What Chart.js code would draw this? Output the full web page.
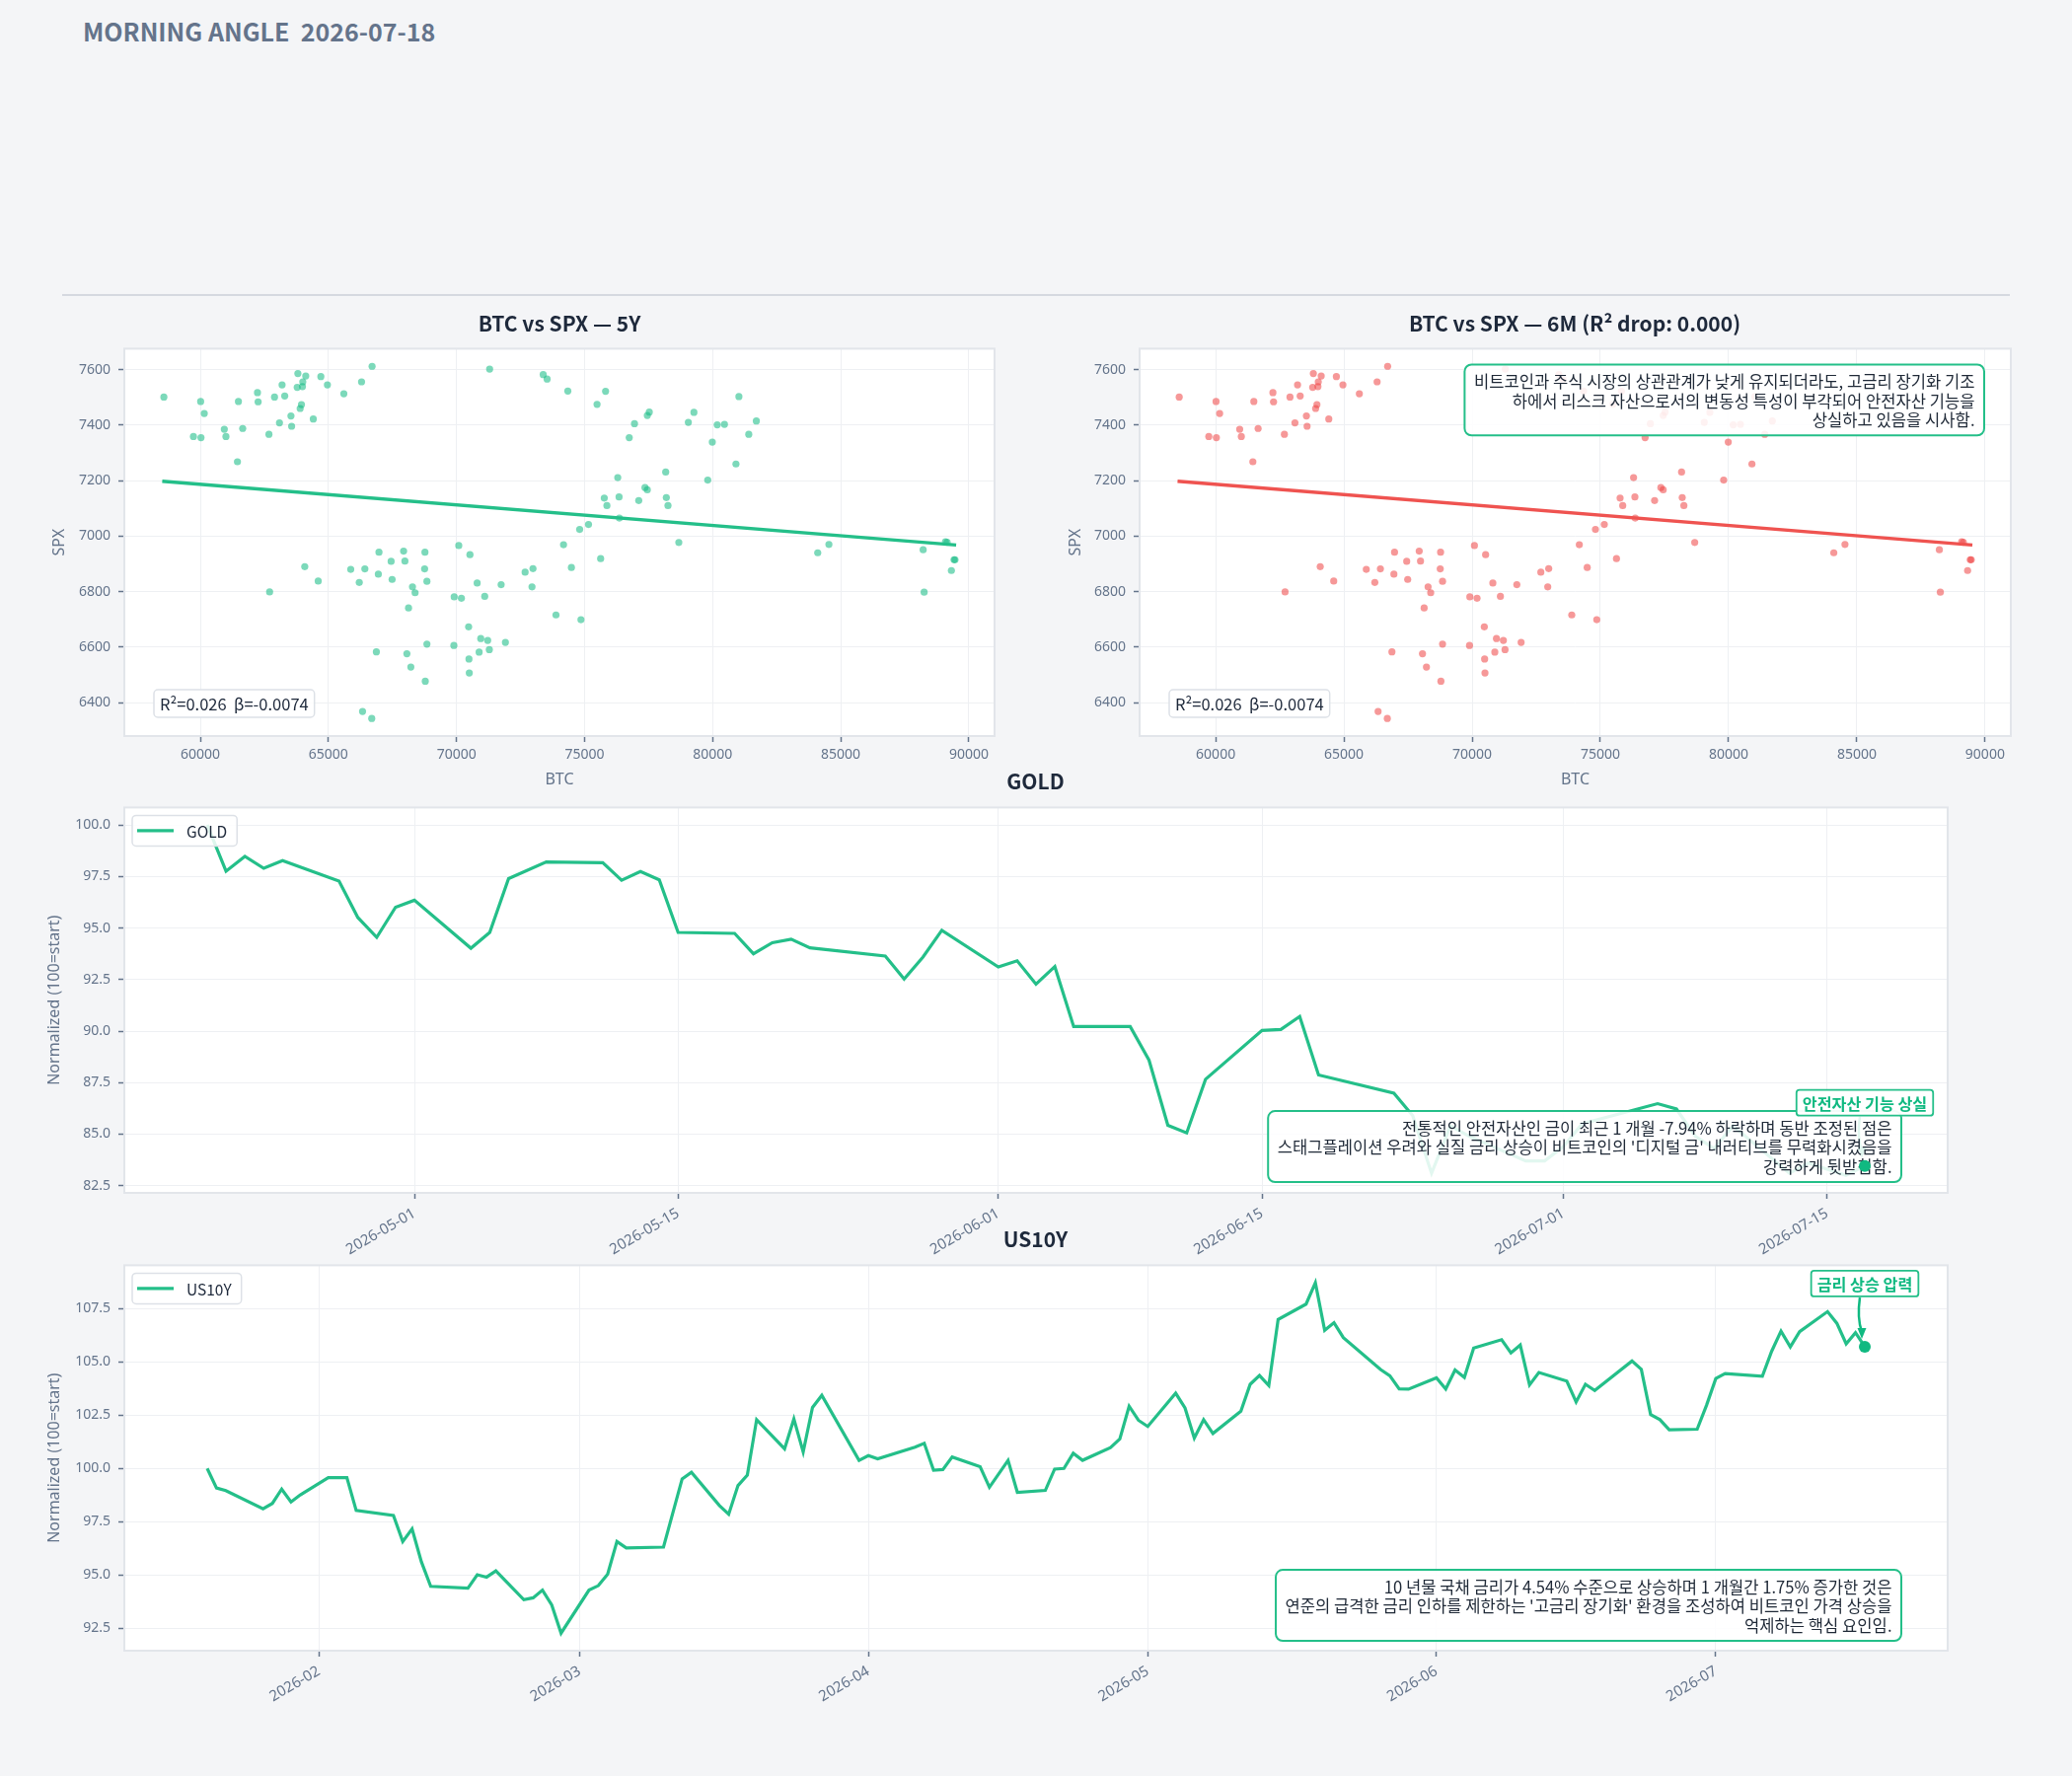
<!DOCTYPE html>
<html>
<head>
<meta charset="utf-8">
<script src="https://cdn.jsdelivr.net/npm/chart.js@4.4.1/dist/chart.umd.min.js"></script>
<style>
  html, body { margin: 0; padding: 0; }
  body { width: 2100px; height: 1800px; background: #f4f5f7; position: relative; overflow: hidden; }
  canvas { position: absolute; }
  .title { position: absolute; width: 800px; text-align: center; white-space: pre;
           font-family: 'Noto Sans CJK KR', sans-serif; font-weight: 700; color: #1e293b;
           line-height: 30px; font-size: 21px; }
  #header { position: absolute; left: 84px; top: 14px; white-space: pre; line-height: 34px;
            font-family: 'Noto Sans CJK KR', sans-serif; font-weight: 700; font-size: 25px; color: #64748b; }
  #rule { position: absolute; left: 63px; top: 298px; width: 1974px; height: 2px; background: #d5d9e0; }
</style>
</head>
<body>
<div id="header">MORNING ANGLE  2026-07-18</div>
<div id="rule"></div>

<canvas id="scatter5y" width="972" height="469" style="left:40px; top:337px"></canvas>
<canvas id="scatter6m" width="972" height="469" style="left:1070px; top:337px"></canvas>
<canvas id="goldChart" width="1940" height="477" style="left:40px; top:802px"></canvas>
<canvas id="us10yChart" width="1940" height="477" style="left:40px; top:1266px"></canvas>

<div class="title" style="left:167px; top:312px;">BTC vs SPX — 5Y</div>
<div class="title" style="left:1196px; top:312px;">BTC vs SPX — 6M (R² drop: 0.000)</div>
<div class="title" style="left:649.5px; top:776px;">GOLD</div>
<div class="title" style="left:649.5px; top:1240px;">US10Y</div>

<script>
// ---------- data ----------
const btc = [58577, 60013, 60154, 59731, 60026, 60936, 61000, 61487, 61654, 61449,
  62231, 62256, 62679, 62897, 63090, 63192, 63295, 63538, 63564, 63808,
  63782, 64000, 64115, 63987, 63948, 63897, 64410, 64705, 64961, 65602,
  66294, 66705, 71294, 62705, 64077, 64602, 65872, 66205, 66423, 66949,
  66974, 67448, 67487, 67936, 67987, 68282, 68384, 68128, 68769, 68756,
  68846, 70089, 70525, 69910, 70192, 70807, 71102, 71743, 72679, 72986,
  72948, 73884, 66872, 68064, 68218, 68846, 68782, 69897, 70474, 70948,
  71218, 70884, 71282, 71910, 70487, 70500, 66333, 66692, 73385, 73538,
  74346, 75820, 75487, 81025, 76949, 76744, 77449, 77526, 79051, 79269,
  80179, 80461, 79987, 81410, 81705, 80910, 79808, 78167, 76295, 77359,
  77449, 75769, 76346, 75872, 77115, 78192, 78256, 76359, 75154, 74808,
  78679, 74179, 75628, 74487, 74859, 84102, 84538, 88218, 88256, 89089,
  89154, 89423, 89461, 89320];
const spx = [7501, 7485, 7442, 7359, 7355, 7385, 7359, 7485, 7388, 7268,
  7517, 7484, 7367, 7501, 7408, 7545, 7505, 7433, 7396, 7586,
  7536, 7556, 7577, 7539, 7474, 7460, 7422, 7575, 7545, 7513,
  7556, 7612, 7602, 6799, 6890, 6838, 6880, 6833, 6882, 6863,
  6942, 6909, 6844, 6946, 6910, 6817, 6796, 6741, 6942, 6882,
  6837, 6966, 6933, 6781, 6776, 6831, 6783, 6825, 6870, 6883,
  6817, 6716, 6583, 6576, 6528, 6611, 6477, 6606, 6673, 6631,
  6624, 6582, 6591, 6617, 6557, 6507, 6368, 6343, 7582, 7566,
  7523, 7522, 7475, 7503, 7405, 7355, 7435, 7447, 7410, 7446,
  7401, 7403, 7339, 7367, 7415, 7260, 7202, 7231, 7211, 7175,
  7167, 7137, 7141, 7110, 7128, 7139, 7110, 7065, 7042, 7024,
  6977, 6969, 6919, 6887, 6699, 6940, 6970, 6951, 6798, 6980,
  6978, 6915, 6915, 6876];
const fitBtc = [58513, 89505];
const fitSpx = [7198, 6968];
const btcTicks = [60000, 65000, 70000, 75000, 80000, 85000, 90000];
const spxTicks = [6400, 6600, 6800, 7000, 7200, 7400, 7600];

const goldDates = ['2026-04-20', '2026-04-21', '2026-04-22', '2026-04-23', '2026-04-24',
  '2026-04-27', '2026-04-28', '2026-04-29', '2026-04-30', '2026-05-01',
  '2026-05-04', '2026-05-05', '2026-05-06', '2026-05-08', '2026-05-11',
  '2026-05-12', '2026-05-13', '2026-05-14', '2026-05-15', '2026-05-18',
  '2026-05-19', '2026-05-20', '2026-05-21', '2026-05-22', '2026-05-26',
  '2026-05-27', '2026-05-28', '2026-05-29', '2026-06-01', '2026-06-02',
  '2026-06-03', '2026-06-04', '2026-06-05', '2026-06-08', '2026-06-09',
  '2026-06-10', '2026-06-11', '2026-06-12', '2026-06-15', '2026-06-16',
  '2026-06-17', '2026-06-18', '2026-06-22', '2026-06-23', '2026-06-24',
  '2026-06-25', '2026-06-26', '2026-06-29', '2026-06-30', '2026-07-01',
  '2026-07-02', '2026-07-06', '2026-07-07', '2026-07-08', '2026-07-09',
  '2026-07-10', '2026-07-13', '2026-07-14', '2026-07-15', '2026-07-16',
  '2026-07-17'];
const goldValues = [100.0, 97.76, 98.48, 97.90, 98.27,
  97.28, 95.51, 94.55, 96.01, 96.35,
  94.02, 94.79, 97.40, 98.21, 98.17,
  97.32, 97.74, 97.34, 94.79, 94.74,
  93.75, 94.29, 94.46, 94.04, 93.64,
  92.53, 93.59, 94.89, 93.11, 93.41,
  92.28, 93.13, 90.22, 90.22, 88.59,
  85.43, 85.06, 87.66, 90.03, 90.08,
  90.71, 87.87, 86.99, 85.9, 83.1,
  85.4, 84.9, 83.7, 83.7, 84.4,
  85.5, 86.48, 86.22, 84.9, 84.3,
  85.4, 83.1, 83.6, 83.3, 83.0,
  83.46];
const goldTicks = ['2026-05-01', '2026-05-15', '2026-06-01', '2026-06-15', '2026-07-01', '2026-07-15'];
const goldLevels = [82.5, 85.0, 87.5, 90.0, 92.5, 95.0, 97.5, 100.0];

const us10yDates = ['2026-01-20', '2026-01-21', '2026-01-22', '2026-01-26', '2026-01-27',
  '2026-01-28', '2026-01-29', '2026-01-30', '2026-02-02', '2026-02-04',
  '2026-02-05', '2026-02-09', '2026-02-10', '2026-02-11', '2026-02-12',
  '2026-02-13', '2026-02-17', '2026-02-18', '2026-02-19', '2026-02-20',
  '2026-02-23', '2026-02-24', '2026-02-25', '2026-02-26', '2026-02-27',
  '2026-03-02', '2026-03-03', '2026-03-04', '2026-03-05', '2026-03-06',
  '2026-03-10', '2026-03-12', '2026-03-13', '2026-03-16', '2026-03-17',
  '2026-03-18', '2026-03-19', '2026-03-20', '2026-03-23', '2026-03-24',
  '2026-03-25', '2026-03-26', '2026-03-27', '2026-03-31', '2026-04-01',
  '2026-04-02', '2026-04-06', '2026-04-07', '2026-04-08', '2026-04-09',
  '2026-04-10', '2026-04-13', '2026-04-14', '2026-04-16', '2026-04-17',
  '2026-04-20', '2026-04-21', '2026-04-22', '2026-04-23', '2026-04-24',
  '2026-04-27', '2026-04-28', '2026-04-29', '2026-04-30', '2026-05-01',
  '2026-05-04', '2026-05-05', '2026-05-06', '2026-05-07', '2026-05-08',
  '2026-05-11', '2026-05-12', '2026-05-13', '2026-05-14', '2026-05-15',
  '2026-05-18', '2026-05-19', '2026-05-20', '2026-05-21', '2026-05-22',
  '2026-05-26', '2026-05-27', '2026-05-28', '2026-05-29', '2026-06-01',
  '2026-06-02', '2026-06-03', '2026-06-04', '2026-06-05', '2026-06-08',
  '2026-06-09', '2026-06-10', '2026-06-11', '2026-06-12', '2026-06-15',
  '2026-06-16', '2026-06-17', '2026-06-18', '2026-06-22', '2026-06-23',
  '2026-06-24', '2026-06-25', '2026-06-26', '2026-06-29', '2026-06-30',
  '2026-07-01', '2026-07-02', '2026-07-06', '2026-07-07', '2026-07-08',
  '2026-07-09', '2026-07-10', '2026-07-13', '2026-07-14', '2026-07-15',
  '2026-07-16', '2026-07-17'];
const us10yValues = [100.0, 99.08, 98.96, 98.11, 98.36,
  99.03, 98.43, 98.76, 99.57, 99.57,
  98.03, 97.79, 96.57, 97.16, 95.62,
  94.47, 94.38, 95.01, 94.90, 95.19,
  93.84, 93.93, 94.29, 93.59, 92.27,
  94.29, 94.50, 95.04, 96.57, 96.27,
  96.31, 99.51, 99.82, 98.26, 97.85,
  99.20, 99.69, 102.29, 100.92, 102.32,
  100.77, 102.86, 103.43, 100.38, 100.60,
  100.45, 101.00, 101.18, 99.92, 99.95,
  100.54, 100.08, 99.12, 100.38, 98.88,
  98.97, 99.97, 100.00, 100.71, 100.38,
  100.98, 101.38, 102.92, 102.26, 101.97,
  103.53, 102.84, 101.43, 102.29, 101.64,
  102.69, 103.95, 104.36, 103.89, 106.99,
  107.71, 108.71, 106.48, 106.84, 106.14,
  104.64, 104.35, 103.73, 103.72, 104.25,
  103.73, 104.62, 104.27, 105.65, 106.04,
  105.42, 105.79, 103.92, 104.50, 104.10,
  103.12, 103.95, 103.66, 105.04, 104.65,
  102.53, 102.29, 101.81, 101.84, 102.96,
  104.22, 104.45, 104.33, 105.50, 106.44,
  105.70, 106.42, 107.36, 106.81, 105.85,
  106.37, 105.71];
const us10yTicks = ['2026-02', '2026-03', '2026-04', '2026-05', '2026-06', '2026-07'];
const us10yLevels = [92.5, 95.0, 97.5, 100.0, 102.5, 105.0, 107.5];

const statText = 'R²=0.026  β=-0.0074';
const scatterNote = ['비트코인과 주식 시장의 상관관계가 낮게 유지되더라도, 고금리 장기화 기조',
  '하에서 리스크 자산으로서의 변동성 특성이 부각되어 안전자산 기능을',
  '상실하고 있음을 시사함.'];
const goldNote = ['전통적인 안전자산인 금이 최근 1 개월 -7.94% 하락하며 동반 조정된 점은',
  "스태그플레이션 우려와 실질 금리 상승이 비트코인의 '디지털 금' 내러티브를 무력화시켰음을",
  '강력하게 뒷받침함.'];
const us10yNote = ['10 년물 국채 금리가 4.54% 수준으로 상승하며 1 개월간 1.75% 증가한 것은',
  "연준의 급격한 금리 인하를 제한하는 '고금리 장기화' 환경을 조성하여 비트코인 가격 상승을",
  '억제하는 핵심 요인임.'];

// ---------- helpers ----------
const GREEN = '#24bf89';
const MARK = '#10b981';
const RED = '#ef5350';
const MUTED = '#64748b';
const GRID = '#eef0f3';
const CJK = "'Noto Sans CJK KR', sans-serif";

Chart.defaults.font.family = "'Noto Sans', sans-serif";

const DAY = 86400000;
const EPOCH = Date.UTC(2026, 0, 1);
function dayNum(s) {
  const p = s.split('-').map(Number);
  return (Date.UTC(p[0], p[1] - 1, p[2] || 1) - EPOCH) / DAY;
}
function dayLabel(v, len) {
  return new Date(EPOCH + Math.round(v) * DAY).toISOString().slice(0, len);
}
function padRange(vals, frac) {
  const lo = Math.min(...vals), hi = Math.max(...vals), m = (hi - lo) * frac;
  return [lo - m, hi + m];
}

function drawNote(ctx, lines, right, top, bottom) {
  ctx.save();
  ctx.font = '16.6px ' + CJK;
  const lh = 19.3;
  const w = Math.max(...lines.map(l => ctx.measureText(l).width)) + 19;
  const h = lines.length * lh + 14;
  const y = top !== null ? top : bottom - h;
  ctx.beginPath();
  ctx.roundRect(right - w, y, w, h, 7);
  ctx.fillStyle = 'rgba(255,255,255,0.87)';
  ctx.fill();
  ctx.lineWidth = 2;
  ctx.strokeStyle = GREEN;
  ctx.stroke();
  ctx.fillStyle = '#1f2937';
  ctx.textAlign = 'right';
  ctx.textBaseline = 'middle';
  lines.forEach((l, i) => ctx.fillText(l, right - 9.5, y + 7 + lh * (i + 0.5) + 1));
  ctx.restore();
}

function drawTag(ctx, text, cx, cy) {
  ctx.save();
  ctx.font = 'bold 16.2px ' + CJK;
  const w = ctx.measureText(text).width + 12, h = 26;
  ctx.beginPath();
  ctx.roundRect(cx - w / 2, cy - h / 2, w, h, 3);
  ctx.fillStyle = 'rgba(255,255,255,0.95)';
  ctx.fill();
  ctx.lineWidth = 1.8;
  ctx.strokeStyle = GREEN;
  ctx.stroke();
  ctx.fillStyle = MARK;
  ctx.textAlign = 'center';
  ctx.textBaseline = 'middle';
  ctx.fillText(text, cx, cy + 1);
  ctx.restore();
}

function drawArrow(ctx, x1, y1, x2, y2) {
  ctx.save();
  ctx.strokeStyle = MARK;
  ctx.fillStyle = MARK;
  ctx.lineWidth = 2.5;
  ctx.beginPath();
  ctx.moveTo(x1, y1);
  ctx.quadraticCurveTo((x1 + x2) / 2 - 4, (y1 + y2) / 2, x2, y2 - 7);
  ctx.stroke();
  ctx.beginPath();
  ctx.moveTo(x2, y2);
  ctx.lineTo(x2 - 4.5, y2 - 11);
  ctx.lineTo(x2 + 4.5, y2 - 11);
  ctx.closePath();
  ctx.fill();
  ctx.restore();
}

// white plot area with a light frame
const plotFrame = {
  id: 'plotFrame',
  beforeDraw(chart) {
    const { ctx, chartArea: a } = chart;
    ctx.save();
    ctx.fillStyle = '#ffffff';
    ctx.fillRect(a.left, a.top, a.right - a.left, a.bottom - a.top);
    ctx.restore();
  },
  beforeDatasetsDraw(chart) {
    const { ctx, chartArea: a } = chart;
    ctx.save();
    ctx.strokeStyle = '#e2e5ea';
    ctx.lineWidth = 2;
    ctx.strokeRect(a.left, a.top, a.right - a.left, a.bottom - a.top);
    ctx.restore();
  }
};

// R² / beta box in the lower left corner
const statBox = {
  id: 'statBox',
  afterDatasetsDraw(chart) {
    const { ctx, chartArea: a } = chart;
    ctx.save();
    ctx.font = '16.5px ' + CJK;
    const w = ctx.measureText(statText).width + 12, h = 28;
    const x = a.left + 30, y = a.bottom - 19 - h;
    ctx.beginPath();
    ctx.roundRect(x, y, w, h, 4);
    ctx.fillStyle = 'rgba(255,255,255,0.9)';
    ctx.fill();
    ctx.lineWidth = 1.5;
    ctx.strokeStyle = '#dde1e7';
    ctx.stroke();
    ctx.fillStyle = '#1e293b';
    ctx.textBaseline = 'middle';
    ctx.fillText(statText, x + 6, y + h / 2 + 1);
    ctx.restore();
  }
};

// legend box inside the plot, upper left
const innerLegend = {
  id: 'innerLegend',
  afterDraw(chart) {
    const { ctx, chartArea: a } = chart;
    const ds = chart.data.datasets[1];
    ctx.save();
    ctx.font = '15.5px ' + CJK;
    const tw = ctx.measureText(ds.label).width;
    const x = a.left + 8, y = a.top + 8, h = 31, w = 55 + tw + 10;
    ctx.beginPath();
    ctx.roundRect(x, y, w, h, 4);
    ctx.fillStyle = 'rgba(255,255,255,0.85)';
    ctx.fill();
    ctx.lineWidth = 1.5;
    ctx.strokeStyle = '#dde1e7';
    ctx.stroke();
    ctx.beginPath();
    ctx.moveTo(x + 5, y + h / 2);
    ctx.lineTo(x + 42, y + h / 2);
    ctx.lineWidth = 3.2;
    ctx.strokeStyle = ds.borderColor;
    ctx.stroke();
    ctx.fillStyle = '#1e293b';
    ctx.textBaseline = 'middle';
    ctx.fillText(ds.label, x + 55, y + h / 2 + 1);
    ctx.restore();
  }
};

function scatterChart(id, pointColor, lineColor, yWidth, extra) {
  const xr = padRange(btc, 0.05), yr = padRange(spx, 0.05);
  return new Chart(document.getElementById(id), {
    type: 'scatter',
    data: {
      datasets: [
        {
          data: fitBtc.map((x, i) => ({ x: x, y: fitSpx[i] })),
          showLine: true, borderColor: lineColor, borderWidth: 3.5, pointRadius: 0
        },
        {
          data: btc.map((x, i) => ({ x: x, y: spx[i] })),
          backgroundColor: pointColor, pointRadius: 3.6, borderWidth: 0
        }
      ]
    },
    options: {
      responsive: false,
      animation: false,
      devicePixelRatio: 1,
      layout: { padding: { top: 0, right: 2, left: 0, bottom: 0 } },
      plugins: { legend: { display: false }, tooltip: { enabled: false } },
      scales: {
        x: {
          type: 'linear', min: xr[0], max: xr[1],
          afterBuildTicks: s => { s.ticks = btcTicks.map(v => ({ value: v })); },
          afterFit: s => { s.height = 60; },
          grid: { color: GRID, tickLength: 6, tickColor: MUTED, tickWidth: 1.5 },
          border: { display: false },
          ticks: { color: MUTED, font: { size: 14 }, padding: 5, callback: v => String(v) },
          title: { display: true, text: 'BTC', color: MUTED, font: { size: 16 }, padding: { top: 0, bottom: 6 } }
        },
        y: {
          min: yr[0], max: yr[1],
          afterBuildTicks: s => { s.ticks = spxTicks.map(v => ({ value: v })); },
          afterFit: s => { s.width = yWidth; },
          grid: { color: GRID, tickLength: 6, tickColor: MUTED, tickWidth: 1.5 },
          border: { display: false },
          ticks: { color: MUTED, font: { size: 14 }, padding: 8, callback: v => String(v) },
          title: { display: true, text: 'SPX', color: MUTED, font: { size: 16 }, padding: { top: 10.4, bottom: 0 } }
        }
      }
    },
    plugins: [plotFrame, statBox].concat(extra)
  });
}

scatterChart('scatter5y', 'rgba(16,185,129,0.55)', GREEN, 86, []);
scatterChart('scatter6m', 'rgba(239,68,68,0.55)', RED, 85, [{
  id: 'scatterNote',
  afterDatasetsDraw(chart) {
    const a = chart.chartArea;
    drawNote(chart.ctx, scatterNote, a.right - 27, a.top + 16, null);
  }
}]);

function lineChart(id, name, dates, values, tickDates, levels, labelLen, notePlugin) {
  const days = dates.map(dayNum);
  const xr = padRange(days, 0.05), yr = padRange(values, 0.05);
  const last = dates.length - 1;
  return new Chart(document.getElementById(id), {
    type: 'line',
    data: {
      datasets: [
        {
          label: 'last',
          data: [{ x: days[last], y: values[last] }],
          showLine: false, pointRadius: 6, pointBackgroundColor: MARK, pointBorderWidth: 0
        },
        {
          label: name,
          data: days.map((d, i) => ({ x: d, y: values[i] })),
          borderColor: GREEN, borderWidth: 3.2, pointRadius: 0, tension: 0, fill: false
        }
      ]
    },
    options: {
      responsive: false,
      animation: false,
      devicePixelRatio: 1,
      layout: { padding: { top: 0, right: 0, left: 0, bottom: 0 } },
      plugins: { legend: { display: false }, tooltip: { enabled: false } },
      scales: {
        x: {
          type: 'linear', min: xr[0], max: xr[1],
          afterBuildTicks: s => { s.ticks = tickDates.map(d => ({ value: dayNum(d) })); },
          afterFit: s => { s.height = 70; },
          grid: { color: GRID, tickLength: 6, tickColor: MUTED, tickWidth: 1.5 },
          border: { display: false },
          ticks: { color: MUTED, font: { size: 15 }, padding: 6, minRotation: 30, maxRotation: 30,
                   autoSkip: false, callback: v => dayLabel(v, labelLen) }
        },
        y: {
          min: yr[0], max: yr[1],
          afterBuildTicks: s => { s.ticks = levels.map(v => ({ value: v })); },
          afterFit: s => { s.width = 86; },
          grid: { color: GRID, tickLength: 6, tickColor: MUTED, tickWidth: 1.5 },
          border: { display: false },
          ticks: { color: MUTED, font: { size: 14 }, padding: 8, callback: v => v.toFixed(1) },
          title: { display: true, text: 'Normalized (100=start)', color: MUTED, font: { size: 16 },
                   padding: { top: 6, bottom: 0 } }
        }
      }
    },
    plugins: [plotFrame, innerLegend, notePlugin]
  });
}

// gold: note box sits above the line but under the last-point marker
lineChart('goldChart', 'GOLD', goldDates, goldValues, goldTicks, goldLevels, 10, {
  id: 'goldNote',
  afterDatasetDraw(chart, args) {
    if (args.index !== 1) return;
    const a = chart.chartArea;
    const p = chart.getDatasetMeta(0).data[0];
    drawArrow(chart.ctx, p.x - 5, p.y - 50, p.x - 3, p.y - 8);
    drawNote(chart.ctx, goldNote, a.right - 47, null, a.bottom - 11);
    drawTag(chart.ctx, '안전자산 기능 상실', p.x, p.y - 64);
  }
});

lineChart('us10yChart', 'US10Y', us10yDates, us10yValues, us10yTicks, us10yLevels, 7, {
  id: 'us10yNote',
  afterDatasetsDraw(chart) {
    const a = chart.chartArea;
    const p = chart.getDatasetMeta(0).data[0];
    drawNote(chart.ctx, us10yNote, a.right - 47, null, a.bottom - 10);
    drawArrow(chart.ctx, p.x - 5, p.y - 50, p.x - 3, p.y - 8);
    drawTag(chart.ctx, '금리 상승 압력', p.x, p.y - 64);
  }
});
</script>
</body>
</html>
